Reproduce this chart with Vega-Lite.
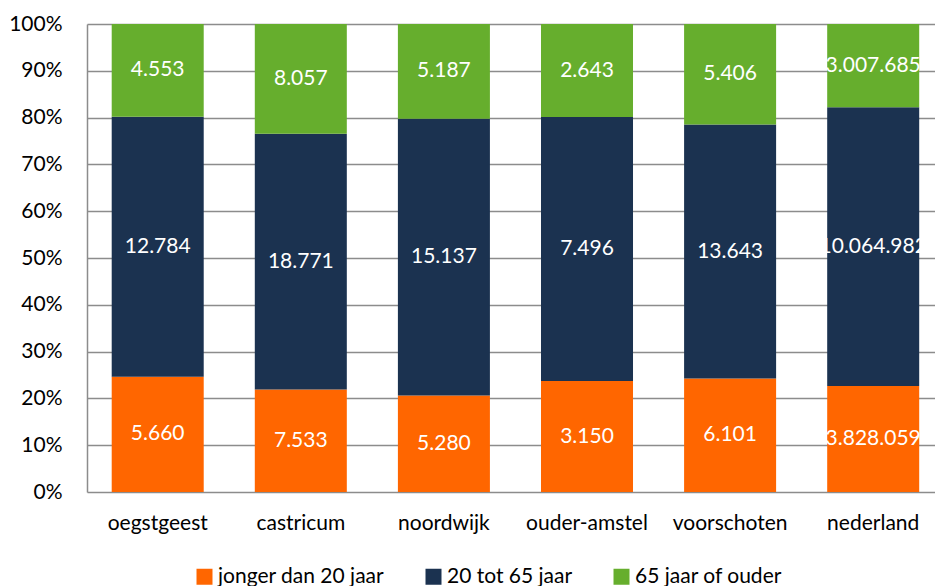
{
  "$schema": "https://vega.github.io/schema/vega-lite/v6.json",
  "autosize": {"type": "none"},
  "padding": {"left": 87, "top": 24, "right": 0, "bottom": 94},
  "width": 848,
  "height": 468,
  "background": "white",
  "config": {
    "locale": {"number": {"decimal": ",", "thousands": ".", "grouping": [3], "currency": ["€", ""]}},
    "view": {"stroke": null},
    "font": "Lato"
  },
  "data": {
    "values": [
      {"gemeente": "oegstgeest", "groep": "jonger dan 20 jaar", "r": 1, "aantal": 5660},
      {"gemeente": "oegstgeest", "groep": "20 tot 65 jaar", "r": 2, "aantal": 12784},
      {"gemeente": "oegstgeest", "groep": "65 jaar of ouder", "r": 3, "aantal": 4553},
      {"gemeente": "castricum", "groep": "jonger dan 20 jaar", "r": 1, "aantal": 7533},
      {"gemeente": "castricum", "groep": "20 tot 65 jaar", "r": 2, "aantal": 18771},
      {"gemeente": "castricum", "groep": "65 jaar of ouder", "r": 3, "aantal": 8057},
      {"gemeente": "noordwijk", "groep": "jonger dan 20 jaar", "r": 1, "aantal": 5280},
      {"gemeente": "noordwijk", "groep": "20 tot 65 jaar", "r": 2, "aantal": 15137},
      {"gemeente": "noordwijk", "groep": "65 jaar of ouder", "r": 3, "aantal": 5187},
      {"gemeente": "ouder-amstel", "groep": "jonger dan 20 jaar", "r": 1, "aantal": 3150},
      {"gemeente": "ouder-amstel", "groep": "20 tot 65 jaar", "r": 2, "aantal": 7496},
      {"gemeente": "ouder-amstel", "groep": "65 jaar of ouder", "r": 3, "aantal": 2643},
      {"gemeente": "voorschoten", "groep": "jonger dan 20 jaar", "r": 1, "aantal": 6101},
      {"gemeente": "voorschoten", "groep": "20 tot 65 jaar", "r": 2, "aantal": 13643},
      {"gemeente": "voorschoten", "groep": "65 jaar of ouder", "r": 3, "aantal": 5406},
      {"gemeente": "nederland", "groep": "jonger dan 20 jaar", "r": 1, "aantal": 3828059},
      {"gemeente": "nederland", "groep": "20 tot 65 jaar", "r": 2, "aantal": 10064982},
      {"gemeente": "nederland", "groep": "65 jaar of ouder", "r": 3, "aantal": 3007685}
    ]
  },
  "encoding": {
    "x": {
      "field": "gemeente", "type": "nominal", "sort": null,
      "scale": {"paddingInner": 0.357, "paddingOuter": 0.1415, "align": 0.61},
      "axis": {
        "title": null, "labelAngle": 0, "ticks": false, "domain": false,
        "labelFontSize": 21, "labelColor": "#000000", "labelPadding": 20, "labelFont": "Lato"
      }
    }
  },
  "layer": [
    {
      "mark": {"type": "bar"},
      "encoding": {
        "y": {
          "field": "aantal", "type": "quantitative", "stack": "normalize",
          "scale": {"domain": [0, 1]},
          "axis": {
            "title": null, "format": ".0%", "values": [0, 0.1, 0.2, 0.3, 0.4, 0.5, 0.6, 0.7, 0.8, 0.9, 1],
            "ticks": false, "labelPadding": 25, "labelFontSize": 21, "labelColor": "#000000",
            "grid": true, "gridColor": "#8c8c8c", "gridWidth": 1.5,
            "domainColor": "#8c8c8c", "domainWidth": 1.5, "labelFont": "Lato"
          }
        },
        "order": {"field": "r", "type": "quantitative"},
        "color": {
          "field": "groep", "type": "nominal",
          "sort": ["jonger dan 20 jaar", "20 tot 65 jaar", "65 jaar of ouder"],
          "scale": {
            "domain": ["jonger dan 20 jaar", "20 tot 65 jaar", "65 jaar of ouder"],
            "range": ["#ff6600", "#1b3250", "#66ae2d"]
          },
          "legend": {
            "title": null, "orient": "none", "legendX": 107, "legendY": 542,
            "direction": "horizontal", "columns": 3, "columnPadding": 38,
            "symbolType": "square", "symbolSize": 256, "symbolStrokeWidth": 0,
            "labelFontSize": 21, "labelColor": "#000000", "labelOffset": 3, "labelFont": "Lato", "labelLimit": 400
          }
        }
      }
    },
    {
      "mark": {"type": "text", "color": "#ffffff", "fontSize": 21, "baseline": "middle", "font": "Lato"},
      "encoding": {
        "y": {"field": "aantal", "type": "quantitative", "stack": "normalize", "bandPosition": 0.5},
        "order": {"field": "r", "type": "quantitative"},
        "detail": {"field": "groep"},
        "text": {"field": "aantal", "type": "quantitative", "format": ",d"}
      }
    }
  ]
}
